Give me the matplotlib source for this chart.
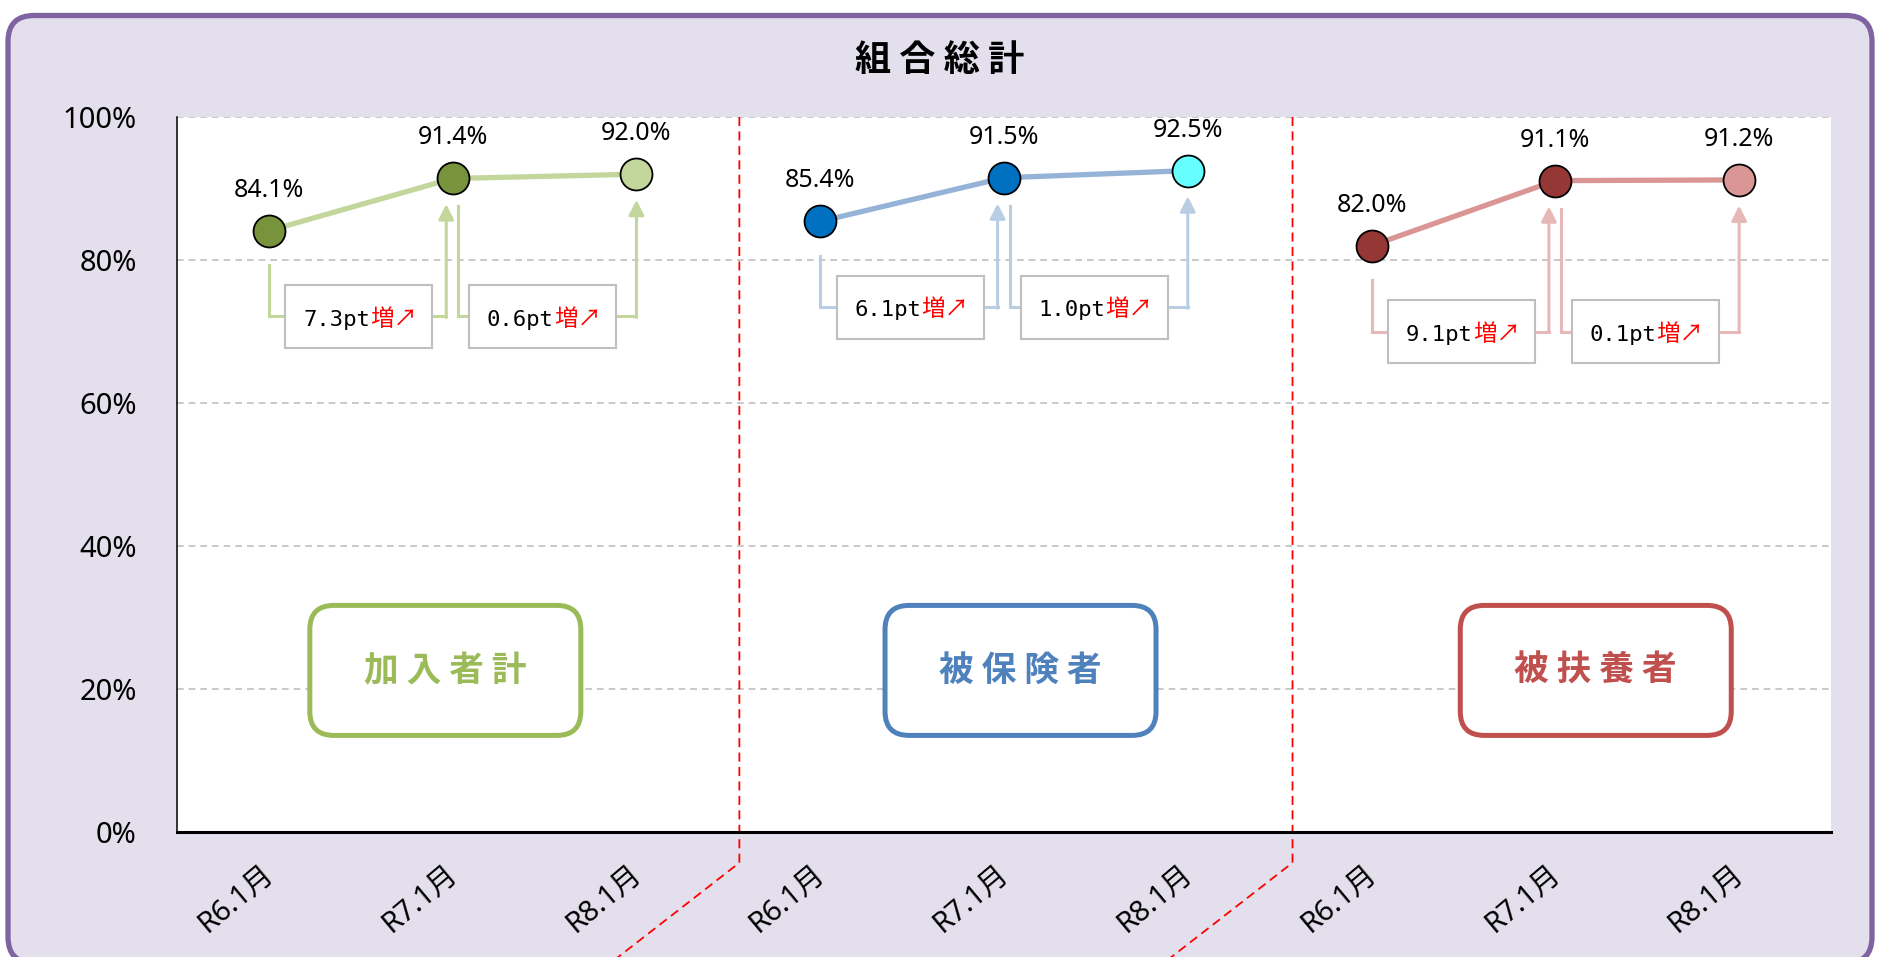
import matplotlib
matplotlib.use('Agg')
import matplotlib.pyplot as plt
from matplotlib.patches import FancyBboxPatch, Rectangle
from matplotlib.transforms import IdentityTransform, blended_transform_factory, ScaledTranslation

plt.rcParams['font.family'] = ['Noto Sans', 'Noto Sans CJK JP', 'DejaVu Sans']

# data
title = '組合総計'
months = ['R6.1月', 'R7.1月', 'R8.1月']
groups = ['加入者計', '被保険者', '被扶養者']
kanyu = [84.1, 91.4, 92.0]
hihoken = [85.4, 91.5, 92.5]
hifuyo = [82.0, 91.1, 91.2]
series = [kanyu, hihoken, hifuyo]

# styles
line_cols = ['#C3D69B', '#95B3D7', '#D99694']
conn_cols = ['#C3D69B', '#B9CDE5', '#E6B9B8']
dot_cols = [['#77933C', '#77933C', '#C3D69B'],
            ['#0070C0', '#0070C0', '#66FFFF'],
            ['#953735', '#953735', '#D99694']]
tag_cols = ['#9BBB59', '#4F81BD', '#C0504D']
tag_x = [0.96, 4.09, 7.22]
sep_x = [2.56, 5.57]

W, H = 1886, 957
fig = plt.figure(figsize=(W / 100, H / 100), dpi=100)
fig.patch.set_facecolor('white')

frame = FancyBboxPatch((8, -6), 1864, 947.5, boxstyle='round,pad=0,rounding_size=26',
                       transform=IdentityTransform(), fc='#E4DFEC', ec='#8064A2',
                       lw=3.8, zorder=-10)
fig.add_artist(frame)

ax = fig.add_axes([177 / W, 125 / H, 1654 / W, 715 / H])
ax.set_facecolor('white')
ax.set_xlim(-0.5, 8.5)
ax.set_ylim(0, 100)

ax.set_yticks(range(0, 101, 20))
ax.set_yticklabels([f'{v}%' for v in range(0, 101, 20)], fontsize=21)
ax.yaxis.grid(True, color='#C0C0C0', ls=(0, (4, 3)), lw=1.2)
ax.set_axisbelow(True)
for s in ['top', 'right']:
    ax.spines[s].set_visible(False)
ax.spines['left'].set_linewidth(1.1)
ax.spines['bottom'].set_linewidth(2.2)
ax.tick_params(axis='y', length=0, pad=29)
ax.tick_params(axis='x', length=0, pad=20)

ax.set_xticks(range(9))
ax.set_xticklabels(months * 3, fontsize=21)
shift = ScaledTranslation(-6 / 72, 0, fig.dpi_scale_trans)
for lab in ax.get_xticklabels():
    lab.set_rotation(40)
    lab.set_ha('right')
    lab.set_va('top')
    lab.set_rotation_mode('anchor')
    lab.set_transform(lab.get_transform() + shift)

for g, vals in enumerate(series):
    xs = [3 * g, 3 * g + 1, 3 * g + 2]
    ax.plot(xs, vals, color=line_cols[g], lw=3.8, zorder=3)
    for x, v, c in zip(xs, vals, dot_cols[g]):
        ax.plot(x, v, 'o', ms=23, mfc=c, mec='black', mew=1.3, zorder=4)
        ax.annotate(f'{v:.1f}%', (x, v), xytext=(0, 24.5), textcoords='offset points',
                    ha='center', va='baseline', fontsize=18)

    # change boxes with elbow connectors
    yb = vals[0] - 12
    cc = conn_cols[g]
    for k in range(2):
        a, b = vals[k], vals[k + 1]
        x0, x1 = xs[k], xs[k + 1]
        cx = x0 + 0.49
        sx = x0 + (0.03 if k else 0.0)
        sy = a - (3.9 if k else 4.8)
        tx = x1 - (0.0 if k else 0.035)
        ax.plot([sx, sx, cx - 0.4], [sy, yb, yb], color=cc, lw=2.2, zorder=3,
                solid_joinstyle='miter')
        ax.plot([cx + 0.4, tx], [yb, yb], color=cc, lw=2.2, zorder=3)
        ax.annotate('', xy=(tx, b - 3.6), xytext=(tx, yb - 0.15),
                    arrowprops=dict(arrowstyle='-|>,head_length=0.45,head_width=0.23',
                                    color=cc, lw=2.2, shrinkA=0, shrinkB=0,
                                    mutation_scale=20), zorder=3)
        ax.add_patch(Rectangle((cx - 0.4, yb - 4.4), 0.8, 8.8, fc='white',
                               ec='#BFBFBF', lw=1.5, zorder=5))
        ax.annotate(f'{b - a:.1f}pt', (cx, yb), xytext=(8, -6.5), textcoords='offset points',
                    ha='right', va='baseline', fontsize=16, family='DejaVu Sans Mono',
                    zorder=6)
        ax.annotate('増↗', (cx, yb), xytext=(8, -6.5), textcoords='offset points',
                    ha='left', va='baseline', fontsize=17, color='red',
                    family=['Noto Sans CJK JP', 'DejaVu Sans'], zorder=6)

# group name tags
for g, name in enumerate(groups):
    px, py = ax.transData.transform((tag_x[g], 22.6))
    tag = FancyBboxPatch((px - 135.5, py - 65), 271, 130,
                         boxstyle='round,pad=0,rounding_size=24',
                         transform=IdentityTransform(), fc='white', ec=tag_cols[g],
                         lw=3.6, zorder=5)
    ax.add_artist(tag)
    ax.annotate(' '.join(name), (tag_x[g], 22.6), ha='center', va='center',
                fontsize=25, weight='bold', color=tag_cols[g],
                family='Noto Sans CJK JP', zorder=6)

# red separators running below the axis
trans = blended_transform_factory(ax.transData, ax.transAxes)
for x in sep_x:
    ax.plot([x, x, x - 0.785], [1, -0.043, -0.2], transform=trans, clip_on=False,
            color='red', ls=(0, (5, 3)), lw=1.3, zorder=2)

fig.text(940 / W, 1 - 60 / H, ' '.join(title), ha='center', va='center',
         fontsize=26, weight='bold', family='Noto Sans CJK JP')

fig.savefig('out.png', dpi=100)
